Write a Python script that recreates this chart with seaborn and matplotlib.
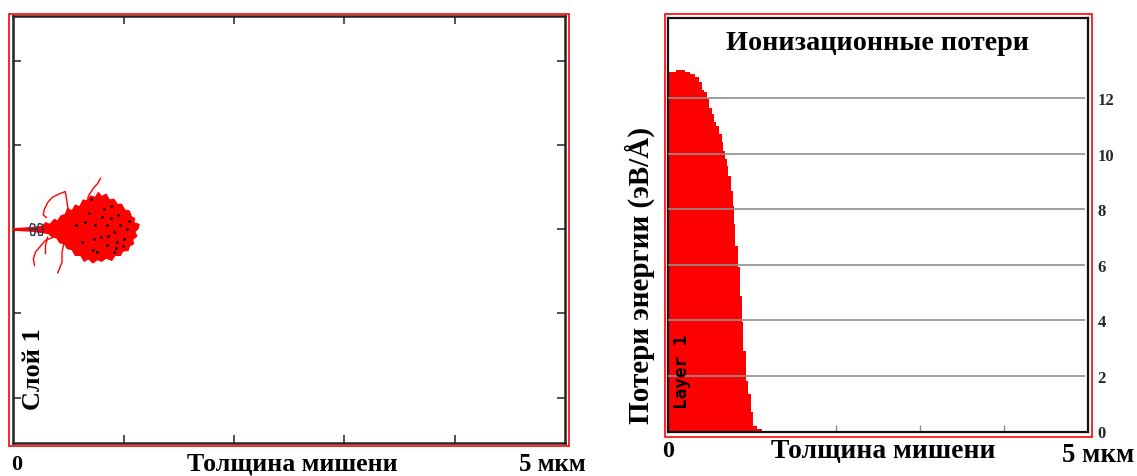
import numpy as np
import pandas as pd
import matplotlib
matplotlib.use("Agg")
import matplotlib.pyplot as plt
from matplotlib.patches import Rectangle
import seaborn as sns

# ---------------- data ----------------
# Right panel: ionisation energy loss profile (step histogram)
loss_bin_left_um = [0.00, 0.10, 0.20, 0.26, 0.32, 0.37, 0.40, 0.43, 0.46, 0.49,
                    0.52, 0.55, 0.57, 0.61, 0.64, 0.66, 0.68, 0.70, 0.72, 0.75,
                    0.77, 0.78, 0.80, 0.837, 0.857, 0.877, 0.897, 0.925, 0.956, 0.984,
                    1.016, 1.056]
loss_bin_end_um = 1.115
loss_ev_per_A = [12.96, 13.02, 12.96, 12.87, 12.75, 12.57, 12.31, 12.21, 11.97, 11.64,
                 11.43, 11.13, 11.01, 10.71, 10.41, 10.11, 9.81, 9.57, 9.21, 8.67,
                 8.13, 7.47, 6.69, 5.91, 4.89, 3.94, 2.91, 1.83, 1.35, 0.69,
                 0.21, 0.09]
loss_ticks = [0, 2, 4, 6, 8, 10, 12]
depth_ticks = [1, 2, 3, 4]
lateral_ticks = [-2, -1, 0, 1, 2]

# Left panel: ion track cloud (envelope of the dense tracks)
cloud_x = [0.03, 0.15, 0.26, 0.29, 0.33, 0.37, 0.40, 0.43, 0.47, 0.49,
           0.53, 0.56, 0.60, 0.63, 0.67, 0.70, 0.74, 0.77, 0.80, 0.84,
           0.87, 0.91, 0.94, 0.98, 1.01, 1.05, 1.07, 1.10, 1.09, 1.14,
           1.13, 1.10, 1.12, 1.08, 1.09, 1.05, 1.04, 0.99, 0.97, 0.92,
           0.89, 0.84, 0.80, 0.76, 0.72, 0.68, 0.64, 0.61, 0.56, 0.53,
           0.49, 0.46, 0.42, 0.39, 0.35, 0.32, 0.27, 0.15, 0.03]
cloud_y = [0.012, 0.02, 0.035, 0.08, 0.06, 0.12, 0.10, 0.16, 0.18, 0.25,
           0.22, 0.29, 0.27, 0.35, 0.34, 0.40, 0.38, 0.44, 0.39, 0.42,
           0.35, 0.36, 0.30, 0.30, 0.23, 0.22, 0.15, 0.13, 0.08, 0.06,
           0.01, -0.03, -0.08, -0.12, -0.17, -0.20, -0.25, -0.26, -0.31, -0.31,
           -0.37, -0.34, -0.38, -0.36, -0.40, -0.35, -0.38, -0.31, -0.31, -0.24,
           -0.23, -0.17, -0.16, -0.10, -0.09, -0.05, -0.04, -0.02, -0.012]
beam_x = [0.0, 0.32]
beam_y = [0.0, 0.0]
# stray tracks
track_a_x = [0.50, 0.47, 0.41, 0.35, 0.31, 0.28, 0.27, 0.30]
track_a_y = [0.20, 0.45, 0.42, 0.38, 0.32, 0.24, 0.17, 0.14]
track_b_x = [0.65, 0.68, 0.73, 0.76, 0.79]
track_b_y = [0.24, 0.40, 0.50, 0.54, 0.61]
track_c_x = [0.37, 0.29, 0.25, 0.20, 0.18, 0.19]
track_c_y = [-0.09, -0.13, -0.19, -0.27, -0.35, -0.43]
track_d_x = [0.46, 0.44, 0.44, 0.40]
track_d_y = [-0.15, -0.27, -0.39, -0.52]
track_e_x = [0.31, 0.29, 0.29]
track_e_y = [-0.09, -0.19, -0.29]
loop_x = [0.14, 0.16, 0.19, 0.20, 0.19, 0.16, 0.15, 0.21, 0.23, 0.26, 0.27, 0.26, 0.23, 0.22]
loop_y = [0.0, 0.07, 0.06, 0.0, -0.07, -0.07, 0.0, 0.0, 0.07, 0.06, 0.0, -0.07, -0.07, 0.0]
# recoil dots inside the cloud
recoil_x = [0.65, 0.73, 0.79, 0.85, 0.88, 0.91, 0.94, 0.85, 0.76, 0.82, 0.97, 1.00, 0.70, 0.91, 1.03,
            0.68, 0.74, 0.80, 0.86, 0.95, 0.62, 0.72, 0.99, 0.88, 1.05, 0.57, 0.93]
recoil_y = [0.09, -0.11, -0.09, 0.05, 0.13, -0.03, -0.15, -0.19, -0.27, 0.24, 0.05, -0.11, 0.36, -0.27, 0.01,
            0.20, 0.05, 0.15, -0.08, 0.17, -0.15, -0.25, -0.20, 0.28, 0.10, 0.05, -0.22]

# ---------------- figure ----------------
sns.set_theme(style="white")
plt.rcParams["font.family"] = ["Liberation Serif", "DejaVu Serif"]

W, H = 1137, 477
fig = plt.figure(figsize=(W / 100, H / 100), dpi=100)


def ax_rect(x0, y0, x1, y1):
    return [x0 / W, 1 - y1 / H, (x1 - x0) / W, (y1 - y0) / H]


ax1 = fig.add_axes(ax_rect(13.5, 17.3, 565, 443.5))
ax2 = fig.add_axes(ax_rect(668, 19, 1088, 432.5))

RED = "#ff0000"

# ---- left panel: trajectories ----
ax1.fill(cloud_x, cloud_y, color=RED, lw=0.8, zorder=2)
sns.lineplot(x=beam_x, y=beam_y, color=RED, lw=2.2, ax=ax1, zorder=3)
tracks = pd.concat([
    pd.DataFrame({"x": track_a_x, "y": track_a_y, "t": "a"}),
    pd.DataFrame({"x": track_b_x, "y": track_b_y, "t": "b"}),
    pd.DataFrame({"x": track_c_x, "y": track_c_y, "t": "c"}),
    pd.DataFrame({"x": track_d_x, "y": track_d_y, "t": "d"}),
    pd.DataFrame({"x": track_e_x, "y": track_e_y, "t": "e"}),
], ignore_index=True)
sns.lineplot(data=tracks, x="x", y="y", units="t", estimator=None, sort=False,
             color=RED, lw=1.0, ax=ax1, zorder=2)
sns.lineplot(x=loop_x, y=loop_y, sort=False, estimator=None, color="#2b3550",
             lw=1.0, ax=ax1, zorder=4)
sns.scatterplot(x=recoil_x, y=recoil_y, color="black", s=4, linewidth=0, ax=ax1, zorder=5)

ax1.set_xlim(0, 5)
ax1.set_ylim(-2.535, 2.535)
ax1.set_xticks(depth_ticks)
ax1.set_yticks(lateral_ticks)
ax1.tick_params(axis="both", which="both", direction="in", length=6, width=1.2,
                color="#333333", top=True, bottom=True, left=True, right=True,
                labelbottom=False, labelleft=False)
for s in ax1.spines.values():
    s.set_color("#222222")
    s.set_linewidth(1.8)
ax1.set_xlabel("")
ax1.set_ylabel("")

# ---- right panel: ionisation losses ----
edges = list(loss_bin_left_um) + [loss_bin_end_um]
centers = [(a + b) / 2 for a, b in zip(edges[:-1], edges[1:])]
sns.histplot(x=centers, weights=loss_ev_per_A, bins=edges, element="step",
             fill=True, color=RED, alpha=1.0, linewidth=0, ax=ax2, zorder=2)
ax2.hlines(loss_ticks[1:], 0, 4.97, color="#8f8f8f", lw=1.2, zorder=3)
ax2.set_xlim(0, 5)
ax2.set_ylim(0, 14.89)
ax2.set_xticks(depth_ticks)
ax2.set_yticks(loss_ticks)
ax2.yaxis.tick_right()
ax2.tick_params(axis="x", direction="in", length=5, width=1.0, color="#8f8f8f",
                bottom=True, labelbottom=False)
ax2.tick_params(axis="y", length=0, pad=7, labelsize=12, right=True, left=False)
for lab in ax2.get_yticklabels():
    lab.set_fontweight("bold")
    lab.set_fontfamily("Liberation Serif")
for s in ax2.spines.values():
    s.set_color("#111111")
    s.set_linewidth(1.6)
ax2.set_xlabel("")
ax2.set_ylabel("")

# red outer frames
for (x0, y0, x1, y1) in [(9, 14.5, 569, 447), (665, 15, 1092, 438)]:
    fig.patches.append(Rectangle((x0 / W, 1 - y1 / H), (x1 - x0) / W, (y1 - y0) / H,
                                 transform=fig.transFigure, fill=False,
                                 edgecolor=RED, lw=1.2, zorder=10))

# ---------------- texts ----------------
def ftext(x, y, s, target, rot=0, family="Liberation Serif", weight="bold", size=16):
    t = fig.text(x / W, 1 - y / H, s, ha="center", va="center", rotation=rot,
                 fontsize=size, fontweight=weight, family=family, color="black")
    return t, target, rot


texts = [
    ftext(17, 465, "0", 11),
    ftext(292, 464, "Толщина мишени", 211),
    ftext(552, 465, "5 мкм", 67),
    ftext(33, 369, "Слой 1", 82, rot=90),
    ftext(668, 452, "0", 12),
    ftext(883, 452, "Толщина мишени", 225),
    ftext(1098, 456, "5 мкм", 72),
    ftext(878, 43, "Ионизационные потери", 303),
    ftext(640, 276, "Потери энергии (эВ/Å)", 298, rot=90),
    ftext(682, 372, "Layer 1", 75, rot=90, family="DejaVu Sans Mono", size=10),
]
fig.canvas.draw()
r = fig.canvas.get_renderer()
for t, target, rot in texts:
    bb = t.get_window_extent(r)
    w = bb.height if rot else bb.width
    t.set_fontsize(t.get_fontsize() * target / w)

fig.savefig("out.png", dpi=100)
